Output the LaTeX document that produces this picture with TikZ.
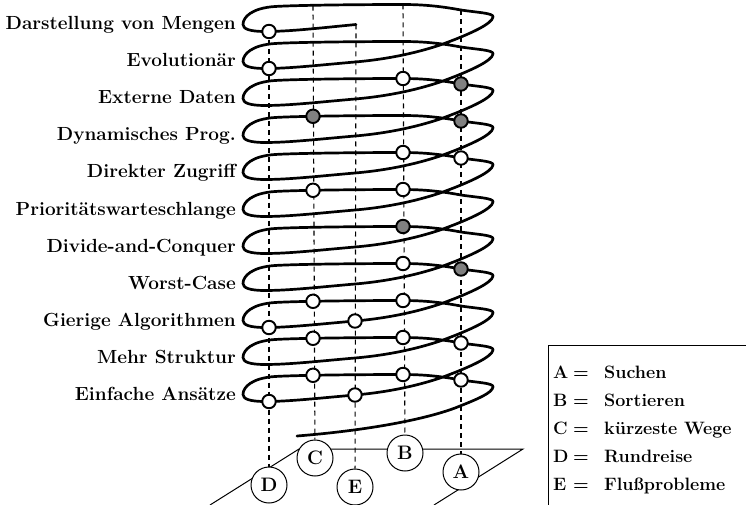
\documentclass[tikz,border=0pt]{standalone}
\usepackage{fontspec}
\begin{document}
\begin{tikzpicture}[x=1pt,y=1pt,
  coil/.style={line width=2.7pt, line cap=round, line join=round},
  proj/.style={line width=1.1pt, dash pattern=on 5pt off 4pt},
  dot/.style={circle, draw, line width=1.9pt, minimum size=13.5pt, inner sep=0pt, fill=white},
  gdot/.style={dot, fill=gray},
  lab/.style={anchor=base east, inner sep=0pt, font=\fontsize{19}{22}\selectfont\bfseries},
  letter/.style={circle, draw, line width=1pt, fill=white, minimum size=36pt, inner sep=0pt, font=\fontsize{19.5}{22}\selectfont\bfseries},
  plane/.style={line width=1pt},
  leg/.style={anchor=base west, inner sep=0pt, font=\fontsize{17.9}{20}\selectfont\bfseries}]
\useasboundingbox (0,0) rectangle (746,-505);

% helper values for the dots
\def\xA{461}\def\dA{14}
\def\xB{403}\def\dB{19.5}
\def\xC{313}\def\dC{18.7}
\def\xD{269}\def\dD{-7.5}
\def\xE{355}\def\dE{-1}

\coordinate (topC) at (313,-5.6);
\coordinate (topB) at (403,-4.5);
\coordinate (topA) at (461,-10);
\coordinate (topE) at (356,-24.5);

% plane
\coordinate (p1) at (299,-449);
\coordinate (p2) at (523,-449);
\coordinate (p3) at (434,-505);
\coordinate (p4) at (210,-505);
\draw[plane] (p4) -- (p1) -- (p2) -- (p3);

% letter circles
\node[letter] (LD) at (269,-485) {D};
\node[letter] (LC) at (315,-458) {C};
\node[letter] (LE) at (355,-487) {E};
\node[letter] (LB) at (405,-453) {B};
\node[letter] (LA) at (461,-472) {A};

% projection lines
\draw[proj] (topC) -- (LC);
\draw[proj] (topB) -- (LB);
\draw[proj] (topA) -- (LA);
\draw[proj] (topE) -- (LE);
\draw[proj] (269,-31.5) -- (LD);

% the coil
\draw[coil] (297,-436) .. controls (360,-431) and (420,-421) .. (455,-408)
  .. controls (478,-399) and (492,-393) .. (493,-387)
  \foreach \i [evaluate=\i as \Y using -24-37*\i] in {10,...,1}{
    .. controls (494,{\Y+11}) and (477,{\Y+11.5}) .. (461,{\Y+14})
    .. controls (448,{\Y+16.3}) and (430,{\Y+19.5}) .. (403,{\Y+19.5})
    .. controls (370,{\Y+19.5}) and (300,{\Y+19}) .. (275,{\Y+17.5})
    .. controls (252,{\Y+16}) and (243,{\Y+7}) .. (243,{\Y-0.5})
    .. controls (243,{\Y-5}) and (250,{\Y-7.5}) .. (265,{\Y-7.5})
    .. controls (290,{\Y-7.5}) and (320,{\Y-4}) .. (355,{\Y-1})
    .. controls (390,{\Y+2}) and (420,{\Y+9}) .. (443,{\Y+17})
    .. controls (470,{\Y+27}) and (492,{\Y+37}) .. (493,{\Y+44})
  }
  .. controls (494,-13) and (477,-12.5) .. (461,-10)
  .. controls (448,-7.7) and (430,-4.5) .. (403,-4.5)
  .. controls (370,-4.5) and (300,-5) .. (275,-6.5)
  .. controls (252,-8) and (243,-17) .. (243,-24.5)
  .. controls (243,-29) and (250,-31.5) .. (265,-31.5)
  .. controls (290,-31.5) and (320,-28) .. (356,-24.5);

% dots on the coil
\foreach \i/\L/\s in {0/D/dot, 1/D/dot, 2/B/dot, 2/A/gdot, 3/C/gdot, 3/A/gdot,
  4/B/dot, 4/A/dot, 5/C/dot, 5/B/dot, 6/B/gdot, 7/B/dot, 7/A/gdot,
  8/C/dot, 8/B/dot, 8/D/dot, 8/E/dot, 9/C/dot, 9/B/dot, 9/A/dot,
  10/C/dot, 10/B/dot, 10/A/dot, 10/D/dot, 10/E/dot}{
  \pgfmathsetmacro\px{\csname x\L\endcsname}
  \pgfmathsetmacro\py{-24-37*\i+\csname d\L\endcsname}
  \node[\s] (d\i\L) at (\px,\py) {};
}

% labels
\foreach \i/\t in {0/Darstellung von Mengen, 1/Evolutionär, 2/Externe Daten,
  3/Dynamisches Prog., 4/Direkter Zugriff, 5/Prioritätswarteschlange,
  6/Divide-and-Conquer, 7/Worst-Case, 8/Gierige Algorithmen,
  9/Mehr Struktur, 10/Einfache Ansätze}{
  \node[lab] (lab\i) at (236,{-30-37*\i}) {\t};
}

% legend
\draw[plane] (548,-505) -- (548,-345) -- (746,-345);
\foreach \k/\t/\y in {A/Suchen/378, B/Sortieren/406, C/kürzeste Wege/434,
  D/Rundreise/462, E/Flußprobleme/490}{
  \node[leg] (k\k) at (553,-\y) {\k};
  \node[leg] (q\k) at (573,-\y) {=};
  \node[leg] (t\k) at (604,-\y) {\t};
}
\end{tikzpicture}
\end{document}
